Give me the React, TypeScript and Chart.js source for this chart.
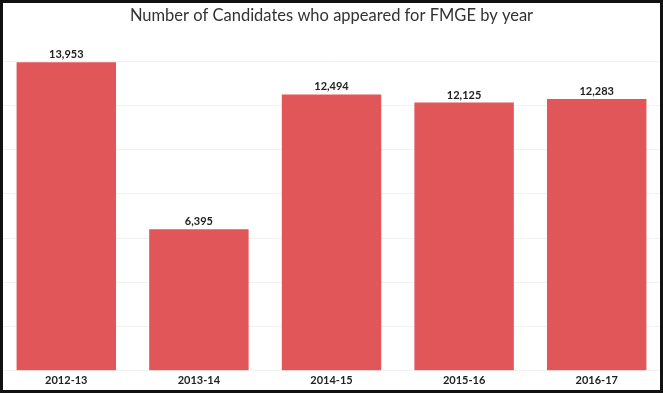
import React, { useEffect, useRef } from "react";
import { Chart, registerables } from "chart.js";

Chart.register(...registerables);

const categories = ["2012-13", "2013-14", "2014-15", "2015-16", "2016-17"];
const candidates = [13953, 6395, 12494, 12125, 12283];
const yTicks = [0, 2000, 4000, 6000, 8000, 10000, 12000, 14000];
const titleText = "Number of Candidates who appeared for FMGE by year";

const FONT = "Lato, 'Open Sans', sans-serif";

const labelPlugin = {
  id: "valueLabels",
  afterDatasetsDraw(chart: any) {
    const ctx = chart.ctx;
    const meta = chart.getDatasetMeta(0);
    ctx.save();
    ctx.font = `bold 11px ${FONT}`;
    ctx.fillStyle = "#222";
    ctx.textAlign = "center";
    ctx.textBaseline = "bottom";
    meta.data.forEach((bar: any, i: number) => {
      ctx.fillText(candidates[i].toLocaleString("en-US"), bar.x, bar.y - 2);
    });
    ctx.restore();
  },
};

const borderPlugin = {
  id: "frameBorder",
  afterDraw(chart: any) {
    const ctx = chart.ctx;
    ctx.save();
    ctx.strokeStyle = "#111";
    ctx.lineWidth = 3;
    ctx.strokeRect(1.5, 1.5, chart.width - 3, chart.height - 3);
    ctx.restore();
  },
};

export default function App() {
  const ref = useRef<HTMLCanvasElement>(null);
  useEffect(() => {
    document.body.style.margin = "0";
    const chart = new Chart(ref.current!, {
      type: "bar",
      data: {
        labels: categories,
        datasets: [
          {
            data: candidates,
            backgroundColor: "#E15759",
            barPercentage: 0.75,
            categoryPercentage: 1,
          },
        ],
      },
      options: {
        animation: false,
        responsive: false,
        layout: { padding: { top: 0, bottom: 3, left: 0, right: 0 } },
        plugins: {
          legend: { display: false },
          tooltip: { enabled: false },
          title: {
            display: true,
            text: titleText,
            color: "#333",
            font: { family: FONT, size: 16.5, weight: "normal", lineHeight: 1.2 },
            padding: { top: 6, bottom: 13.2 },
          },
        },
        scales: {
          x: {
            grid: { display: false, drawTicks: false },
            border: { display: false },
            ticks: {
              color: "#222",
              font: { family: FONT, size: 11, weight: "bold" },
              padding: 3,
              maxRotation: 0,
            },
          },
          y: {
            min: 0,
            max: 15000,
            afterFit: (s: any) => {
              s.width = 0;
            },
            afterBuildTicks: (s: any) => {
              s.ticks = yTicks.map((v) => ({ value: v }));
            },
            grid: { color: "#f2f2f2", drawTicks: false, lineWidth: 1 },
            border: { display: false },
            ticks: { display: false },
          },
        },
      },
      plugins: [labelPlugin, borderPlugin],
    });
    return () => chart.destroy();
  }, []);
  return <canvas ref={ref} width={663} height={393} style={{ display: "block" }} />;
}
